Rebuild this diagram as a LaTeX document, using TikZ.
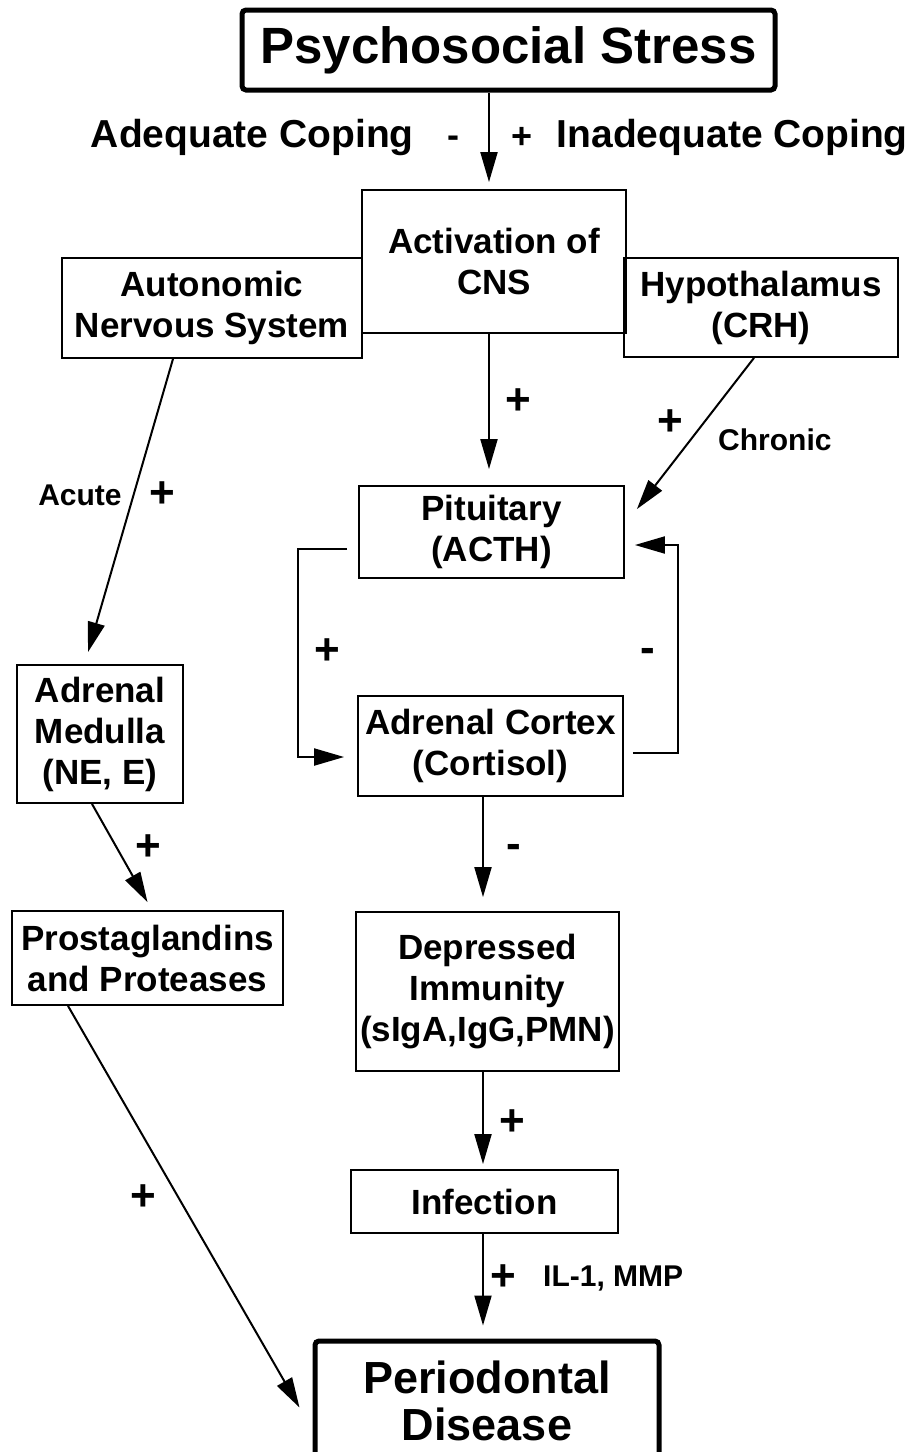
\documentclass[tikz,border=0pt]{standalone}
\usepackage{fontspec}
\setmainfont{Liberation Sans}
\usetikzlibrary{arrows.meta,positioning,calc}

\begin{document}
\begin{tikzpicture}[x=1pt,y=-1pt,
    organ/.style={draw,line width=1.8pt,inner sep=2pt,align=center,
      font=\fontsize{35}{41}\selectfont\bfseries},
    bigbox/.style={draw,line width=5pt,rounded corners=4pt,inner sep=2pt,align=center},
    arr/.style={-{Triangle[length=30pt,width=17pt]},line width=2pt},
    sign/.style={inner sep=0pt,font=\fontsize{44}{44}\selectfont\bfseries},
    lbl/.style={inner sep=0pt,font=\fontsize{30}{32}\selectfont\bfseries},
    coping/.style={inner sep=0pt,font=\fontsize{39}{39}\selectfont\bfseries}]
  \clip (0,0) rectangle (914,1452);
  % stress and coping
  \node[bigbox,minimum width=533,minimum height=80,
    font=\fontsize{51}{55}\selectfont\bfseries] (stress) at (508.5,50) {Psychosocial Stress};
  \node[coping,anchor=base east] (adequate) at (414,147) {Adequate Coping};
  \node[coping,anchor=base east] (inadequate) at (908,147) {Inadequate Coping};
  \node[sign,font=\fontsize{36}{36}\selectfont\bfseries] (minusA) at (453,142) {-};
  \node[sign,font=\fontsize{36}{36}\selectfont\bfseries] (plusA) at (522,138) {+};
  % central nervous system
  \node[organ,minimum width=264,minimum height=143] (cns) at (494,261.5) {Activation of\\CNS};
  \node[organ,minimum width=300,minimum height=100] (ans) at (212,308) {Autonomic\\Nervous System};
  \node[organ,minimum width=274,minimum height=99] (hyp) at (761,307.5) {Hypothalamus\\(CRH)};
  % HPA axis
  \node[organ,minimum width=265,minimum height=92] (pit) at (491.5,532) {Pituitary\\(ACTH)};
  \node[organ,minimum width=265,minimum height=100] (cortex) at (490.5,746) {Adrenal Cortex\\(Cortisol)};
  \node[organ,minimum width=263,minimum height=159] (immun) at (487.5,991.5) {Depressed\\Immunity\\(sIgA,IgG,PMN)};
  \node[organ,minimum width=267,minimum height=63] (infect) at (484.5,1201.5) {Infection};
  % sympathetic branch
  \node[organ,minimum width=166,minimum height=138] (medulla) at (100,734) {Adrenal\\Medulla\\(NE, E)};
  \node[organ,minimum width=271,minimum height=94] (prosta) at (147.5,958) {Prostaglandins\\and Proteases};
  % outcome
  \node[bigbox,minimum width=344,minimum height=120,
    font=\fontsize{45}{47}\selectfont\bfseries] (perio) at (487,1401) {Periodontal\\Disease};

  \coordinate (upper) at (489,0);
  \coordinate (lower) at (483,0);
  \draw[arr,shorten >=7pt] (stress.south -| upper) -- (cns.north -| upper);
  \draw[arr,shorten >=16pt] (cns.south -| upper) -- (pit.north -| upper);
  \draw[arr] ([xshift=-7pt]hyp.south) -- ([xshift=12pt,yshift=-24pt]pit.north east);
  \draw[arr] ([xshift=-39pt]ans.south) -- ([xshift=-12pt,yshift=12pt]medulla.north);
  \draw[arr] ([xshift=-8pt]medulla.south) -- ([yshift=8pt]prosta.north);
  \draw[arr] ([xshift=-79.5pt]prosta.south) -- ([xshift=-13pt,yshift=-69pt]perio.north west);
  % feedback loop
  \draw[arr] ([xshift=-11pt,yshift=-17pt]pit.west) -- ++(-49,0)
    |- ([xshift=-13pt,yshift=-11pt]cortex.west);
  \draw[arr] ([xshift=9pt,yshift=-7pt]cortex.east) -- ++(45,0)
    |- ([xshift=10pt,yshift=-13pt]pit.east);
  \draw[arr,shorten >=14pt] (cortex.south -| lower) -- (immun.north -| lower);
  \draw[arr,shorten >=5pt] (immun.south -| lower) -- (infect.north -| lower);
  \draw[arr,shorten >=13pt] (infect.south -| lower) -- (perio.north -| lower);

  % signs and labels
  \node[sign] (plusCns) at (518,402) {+};
  \node[sign] (plusHyp) at (670,423) {+};
  \node[lbl,anchor=west] (chronic) at (718,440) {Chronic};
  \node[lbl] (acute) at (80,495) {Acute};
  \node[sign] (plusAns) at (162,495) {+};
  \node[sign] (plusMed) at (148,848) {+};
  \node[sign] (plusLoop) at (327,652) {+};
  \node[sign] (minusLoop) at (648,655) {-};
  \node[sign] (minusCort) at (514,851) {-};
  \node[sign] (plusImm) at (512,1123) {+};
  \node[sign] (plusPro) at (143,1198) {+};
  \node[sign] (plusInf) at (503,1278) {+};
  \node[lbl,anchor=west] (ilmmp) at (543,1278) {IL-1, MMP};
\end{tikzpicture}
\end{document}
